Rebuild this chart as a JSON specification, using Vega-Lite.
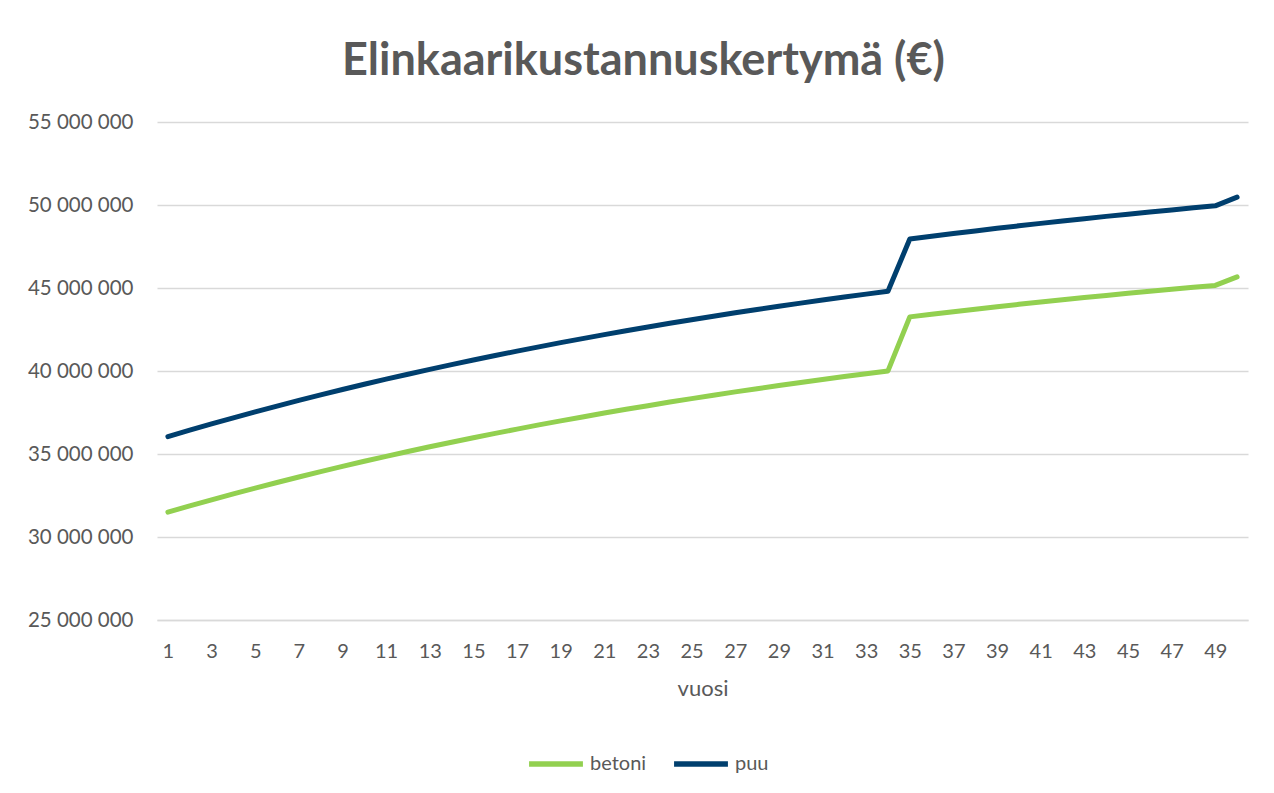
{
  "$schema": "https://vega.github.io/schema/vega-lite/v6.json",
  "width": 1091,
  "height": 498,
  "autosize": {"type": "none"},
  "padding": {"left": 157, "top": 122, "right": 26, "bottom": 173},
  "background": "#ffffff",
  "config": {
    "font": "Lato",
    "view": {"stroke": null},
    "locale": {"number": {"decimal": ",", "thousands": " ", "grouping": [3], "currency": ["", " €"]}}
  },
  "title": {
    "text": "Elinkaarikustannuskertymä (€)",
    "font": "Lato",
    "fontSize": 45,
    "fontWeight": "bold",
    "color": "#595959",
    "anchor": "middle",
    "dx": -59,
    "offset": 28
  },
  "data": {
    "values": [
      {"vuosi": 1, "betoni": 31500000, "puu": 36050000},
      {"vuosi": 2, "betoni": 31875000, "puu": 36436000},
      {"vuosi": 3, "betoni": 32241000, "puu": 36813000},
      {"vuosi": 4, "betoni": 32598000, "puu": 37180000},
      {"vuosi": 5, "betoni": 32946000, "puu": 37539000},
      {"vuosi": 6, "betoni": 33285000, "puu": 37888000},
      {"vuosi": 7, "betoni": 33616000, "puu": 38228000},
      {"vuosi": 8, "betoni": 33939000, "puu": 38560000},
      {"vuosi": 9, "betoni": 34253000, "puu": 38884000},
      {"vuosi": 10, "betoni": 34560000, "puu": 39199000},
      {"vuosi": 11, "betoni": 34858000, "puu": 39507000},
      {"vuosi": 12, "betoni": 35150000, "puu": 39807000},
      {"vuosi": 13, "betoni": 35434000, "puu": 40100000},
      {"vuosi": 14, "betoni": 35711000, "puu": 40385000},
      {"vuosi": 15, "betoni": 35981000, "puu": 40663000},
      {"vuosi": 16, "betoni": 36244000, "puu": 40934000},
      {"vuosi": 17, "betoni": 36501000, "puu": 41198000},
      {"vuosi": 18, "betoni": 36752000, "puu": 41456000},
      {"vuosi": 19, "betoni": 36996000, "puu": 41707000},
      {"vuosi": 20, "betoni": 37234000, "puu": 41952000},
      {"vuosi": 21, "betoni": 37466000, "puu": 42191000},
      {"vuosi": 22, "betoni": 37692000, "puu": 42424000},
      {"vuosi": 23, "betoni": 37912000, "puu": 42651000},
      {"vuosi": 24, "betoni": 38128000, "puu": 42872000},
      {"vuosi": 25, "betoni": 38337000, "puu": 43088000},
      {"vuosi": 26, "betoni": 38542000, "puu": 43298000},
      {"vuosi": 27, "betoni": 38741000, "puu": 43504000},
      {"vuosi": 28, "betoni": 38935000, "puu": 43704000},
      {"vuosi": 29, "betoni": 39125000, "puu": 43899000},
      {"vuosi": 30, "betoni": 39310000, "puu": 44089000},
      {"vuosi": 31, "betoni": 39490000, "puu": 44274000},
      {"vuosi": 32, "betoni": 39665000, "puu": 44455000},
      {"vuosi": 33, "betoni": 39837000, "puu": 44631000},
      {"vuosi": 34, "betoni": 40004000, "puu": 44803000},
      {"vuosi": 35, "betoni": 43260000, "puu": 47950000},
      {"vuosi": 36, "betoni": 43419000, "puu": 48118000},
      {"vuosi": 37, "betoni": 43573000, "puu": 48281000},
      {"vuosi": 38, "betoni": 43724000, "puu": 48440000},
      {"vuosi": 39, "betoni": 43871000, "puu": 48595000},
      {"vuosi": 40, "betoni": 44015000, "puu": 48747000},
      {"vuosi": 41, "betoni": 44155000, "puu": 48894000},
      {"vuosi": 42, "betoni": 44291000, "puu": 49038000},
      {"vuosi": 43, "betoni": 44424000, "puu": 49178000},
      {"vuosi": 44, "betoni": 44554000, "puu": 49315000},
      {"vuosi": 45, "betoni": 44680000, "puu": 49449000},
      {"vuosi": 46, "betoni": 44803000, "puu": 49579000},
      {"vuosi": 47, "betoni": 44923000, "puu": 49705000},
      {"vuosi": 48, "betoni": 45041000, "puu": 49829000},
      {"vuosi": 49, "betoni": 45155000, "puu": 49950000},
      {"vuosi": 50, "betoni": 45670000, "puu": 50470000}
    ]
  },
  "transform": [
    {"fold": ["betoni", "puu"], "as": ["sarja", "arvo"]}
  ],
  "mark": {"type": "line", "strokeWidth": 5, "strokeCap": "round", "strokeJoin": "round"},
  "encoding": {
    "x": {
      "field": "vuosi",
      "type": "quantitative",
      "scale": {"domain": [0.5, 50.5], "nice": false, "zero": false},
      "axis": {
        "title": "vuosi",
        "values": [1, 3, 5, 7, 9, 11, 13, 15, 17, 19, 21, 23, 25, 27, 29, 31, 33, 35, 37, 39, 41, 43, 45, 47, 49],
        "grid": false,
        "ticks": false,
        "tickSize": 0,
        "domain": true,
        "domainColor": "#D9D9D9",
        "domainWidth": 1.5,
        "labelFont": "Lato",
        "labelFontSize": 20,
        "labelColor": "#595959",
        "labelPadding": 21,
        "titleFont": "Lato",
        "titleFontSize": 22,
        "titleFontWeight": "normal",
        "titleColor": "#595959",
        "titlePadding": 17
      }
    },
    "y": {
      "field": "arvo",
      "type": "quantitative",
      "scale": {"domain": [25000000, 55000000], "nice": false, "zero": false},
      "axis": {
        "title": null,
        "values": [25000000, 30000000, 35000000, 40000000, 45000000, 50000000, 55000000],
        "format": ",d",
        "grid": true,
        "gridColor": "#D9D9D9",
        "gridWidth": 1.5,
        "domain": false,
        "ticks": false,
        "tickSize": 0,
        "labelFont": "Lato",
        "labelFontSize": 20.5,
        "labelColor": "#595959",
        "labelPadding": 24
      }
    },
    "color": {
      "field": "sarja",
      "type": "nominal",
      "scale": {"domain": ["betoni", "puu"], "range": ["#92D050", "#003F6E"]},
      "legend": {
        "title": null,
        "orient": "none",
        "direction": "horizontal",
        "legendX": 369,
        "legendY": 612,
        "symbolType": "stroke",
        "symbolSize": 2900,
        "symbolStrokeWidth": 5.5,
        "labelFont": "Lato",
        "labelFontSize": 20,
        "labelColor": "#595959",
        "labelOffset": 4,
        "columnPadding": 16
      }
    }
  }
}
